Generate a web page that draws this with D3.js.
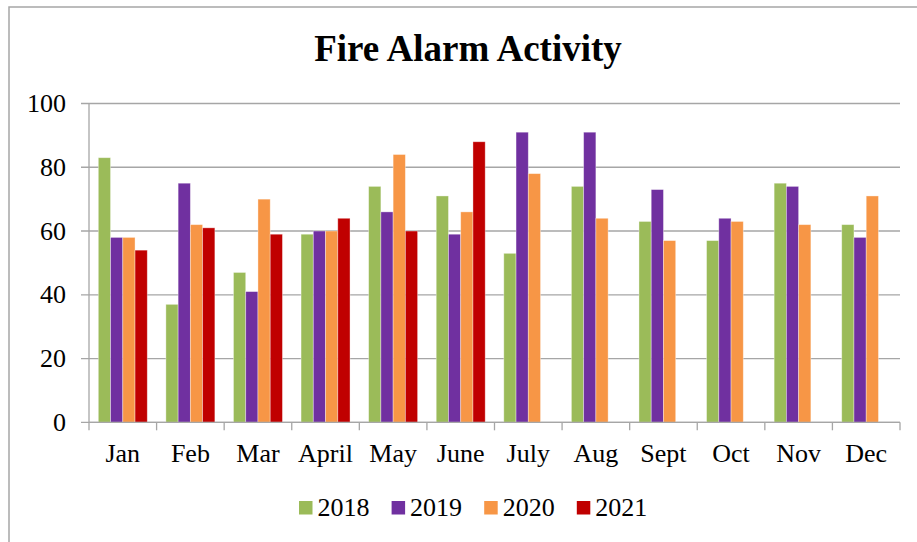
<!DOCTYPE html>
<html>
<head>
<meta charset="utf-8">
<script src="https://cdn.jsdelivr.net/npm/d3@7"></script>
<style>
  html, body { margin: 0; padding: 0; background: #fff; }
  svg { display: block; }
  text { font-family: "Liberation Serif", "Times New Roman", serif; fill: #000; }
</style>
</head>
<body>
<svg id="chart" width="917" height="542"></svg>
<script>
// Data.
const months = ['Jan', 'Feb', 'Mar', 'April', 'May', 'June', 'July', 'Aug', 'Sept', 'Oct', 'Nov', 'Dec']
const years  = ['2018', '2019', '2020', '2021']
const values2018 = [83, 37, 47, 59, 74, 71, 53, 74, 63, 57, 75, 62]
const values2019 = [58, 75, 41, 60, 66, 59, 91, 91, 73, 64, 74, 58]
const values2020 = [58, 62, 70, 60, 84, 66, 78, 64, 57, 63, 62, 71]
const values2021 = [54, 61, 59, 64, 60, 88, null, null, null, null, null, null]
const yTicks = [0, 20, 40, 60, 80, 100]

const colors = ['#9bbb59', '#7030a0', '#f79646', '#c00000']
const series = [values2018, values2019, values2020, values2021]

const GRID = '#a6a6a6'
const svg = d3.select('#chart')

// Outer chart border (only top and left visible in the frame).
svg.append('rect')
  .attr('x', 9).attr('y', 7)
  .attr('width', 940).attr('height', 560)
  .attr('fill', 'none')
  .attr('stroke', GRID)
  .attr('stroke-width', 1.5)

const plot = { left: 89, right: 900, top: 103.5, bottom: 422.3 }

const x0 = d3.scaleBand().domain(months).range([plot.left, plot.right])
const x1 = d3.scaleBand().domain(years).range([0, x0.bandwidth()])
  .paddingInner(0).paddingOuter(0.76)
const y  = d3.scaleLinear().domain([0, 100]).range([plot.bottom, plot.top])

// Gridlines + y tick marks.
svg.append('g')
  .selectAll('line')
  .data(yTicks).enter()
  .append('line')
  .attr('x1', plot.left - 8)
  .attr('x2', plot.right)
  .attr('y1', (d) => y(d))
  .attr('y2', (d) => y(d))
  .attr('stroke', GRID)
  .attr('stroke-width', 1.3)

// Left axis line.
svg.append('line')
  .attr('x1', plot.left).attr('x2', plot.left)
  .attr('y1', plot.top).attr('y2', plot.bottom)
  .attr('stroke', GRID).attr('stroke-width', 1.3)

// Bars.
const rows = months.map((m, i) => ({ month: m, vals: series.map((s) => s[i]) }))
const groups = svg.append('g')
  .selectAll('g')
  .data(rows).enter()
  .append('g')
  .attr('transform', (d) => `translate(${x0(d.month)},0)`)

groups.selectAll('rect')
  .data((d) => d.vals.map((v, k) => ({ year: years[k], value: v, color: colors[k] }))
    .filter((b) => b.value != null))
  .enter()
  .append('rect')
  .attr('x', (d) => x1(d.year))
  .attr('width', x1.bandwidth())
  .attr('y', (d) => y(d.value))
  .attr('height', (d) => y(0) - y(d.value))
  .attr('fill', (d) => d.color)
  .attr('stroke', 'rgba(255,255,255,0.45)')
  .attr('stroke-width', 0.8)

// X axis line and category ticks.
svg.append('line')
  .attr('x1', plot.left).attr('x2', plot.right)
  .attr('y1', plot.bottom).attr('y2', plot.bottom)
  .attr('stroke', GRID).attr('stroke-width', 1.3)

const bounds = months.map((m) => x0(m)).concat([plot.right])
svg.append('g')
  .selectAll('line')
  .data(bounds).enter()
  .append('line')
  .attr('x1', (d) => d).attr('x2', (d) => d)
  .attr('y1', plot.bottom).attr('y2', plot.bottom + 8)
  .attr('stroke', GRID).attr('stroke-width', 1.3)

// Y tick labels.
svg.append('g')
  .selectAll('text')
  .data(yTicks).enter()
  .append('text')
  .attr('x', 66)
  .attr('y', (d) => y(d))
  .attr('dy', '0.33em')
  .attr('text-anchor', 'end')
  .attr('font-size', 26)
  .text((d) => d)

// X tick labels.
svg.append('g')
  .selectAll('text')
  .data(months).enter()
  .append('text')
  .attr('x', (d) => x0(d) + x0.bandwidth() / 2)
  .attr('y', 461.5)
  .attr('text-anchor', 'middle')
  .attr('font-size', 26)
  .text((d) => d)

// Title.
svg.append('text')
  .attr('x', 468)
  .attr('y', 61)
  .attr('text-anchor', 'middle')
  .attr('font-size', 37)
  .attr('font-weight', 'bold')
  .text('Fire Alarm Activity')

// Legend.
const legend = svg.append('g')
  .selectAll('g')
  .data(years).enter()
  .append('g')
  .attr('transform', (d, i) => `translate(${299 + i * 92.6},0)`)
legend.append('rect')
  .attr('x', 0).attr('y', 501)
  .attr('width', 13.5).attr('height', 13.5)
  .attr('fill', (d, i) => colors[i])
legend.append('text')
  .attr('x', 18.5)
  .attr('y', 516)
  .attr('font-size', 26)
  .text((d) => d)
</script>
</body>
</html>
